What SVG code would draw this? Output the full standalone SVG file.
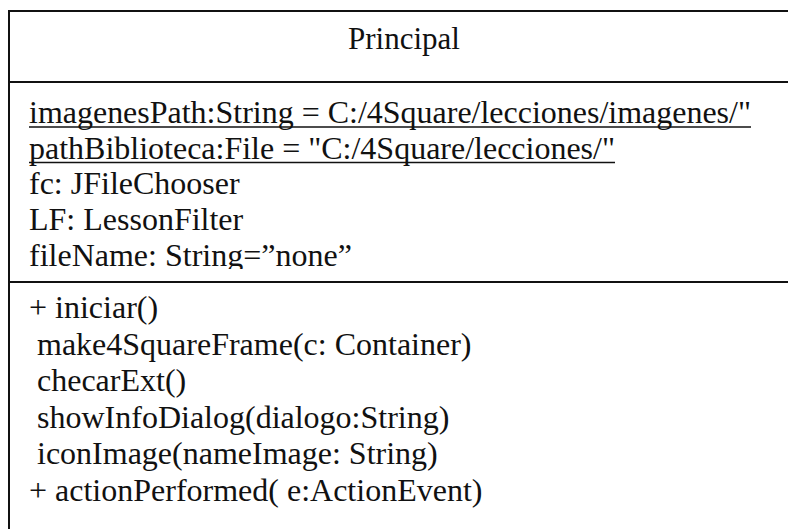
<svg xmlns="http://www.w3.org/2000/svg" width="788" height="529" viewBox="0 0 788 529">
  <style>
    .frame { fill: #ffffff; stroke: #111111; stroke-width: 2; }
    .rule { stroke: #111111; stroke-width: 2; }
    .uline { stroke: #111111; stroke-width: 1.6; }
    .txt { font-family: "Liberation Serif", "Times New Roman", serif; font-size: 32px; fill: #111111; }
    .title { text-anchor: middle; font-size: 31px; }
  </style>
  <defs>
    <!-- attribute rows are cut off just above the operations divider -->
    <clipPath id="attrClip">
      <rect x="10" y="83" width="789" height="186"/>
    </clipPath>
  </defs>

  <rect width="788" height="529" fill="#ffffff"/>

  <!-- Class box: Principal -->
  <g id="principal">
    <rect class="frame" x="9" y="11" width="790" height="530"/>
    <line class="rule" x1="9" y1="82" x2="799" y2="82"/>
    <line class="rule" x1="9" y1="282" x2="799" y2="282"/>

    <!-- name compartment -->
    <text class="txt title" x="404" y="49">Principal</text>

    <!-- attribute compartment -->
    <g clip-path="url(#attrClip)">
      <text class="txt" x="29" y="123" textLength="722" lengthAdjust="spacingAndGlyphs">imagenesPath:String = C:/4Square/lecciones/imagenes/"</text>
      <line class="uline" x1="29" y1="127" x2="751" y2="127"/>
      <text class="txt" x="29" y="158.5" textLength="586" lengthAdjust="spacingAndGlyphs">pathBiblioteca:File = "C:/4Square/lecciones/"</text>
      <line class="uline" x1="29" y1="162.5" x2="615" y2="162.5"/>
      <text class="txt" x="29" y="194">fc: JFileChooser</text>
      <text class="txt" x="29" y="229.5">LF: LessonFilter</text>
      <text class="txt" x="29" y="265.5">fileName: String=”none”</text>
    </g>

    <!-- operation compartment -->
    <text class="txt" x="29" y="318">+ iniciar()</text>
    <text class="txt" x="37" y="354.5">make4SquareFrame(c: Container)</text>
    <text class="txt" x="37" y="391">checarExt()</text>
    <text class="txt" x="37" y="427.5">showInfoDialog(dialogo:String)</text>
    <text class="txt" x="37" y="464">iconImage(nameImage: String)</text>
    <text class="txt" x="29" y="500.5">+ actionPerformed( e:ActionEvent)</text>
  </g>
</svg>
